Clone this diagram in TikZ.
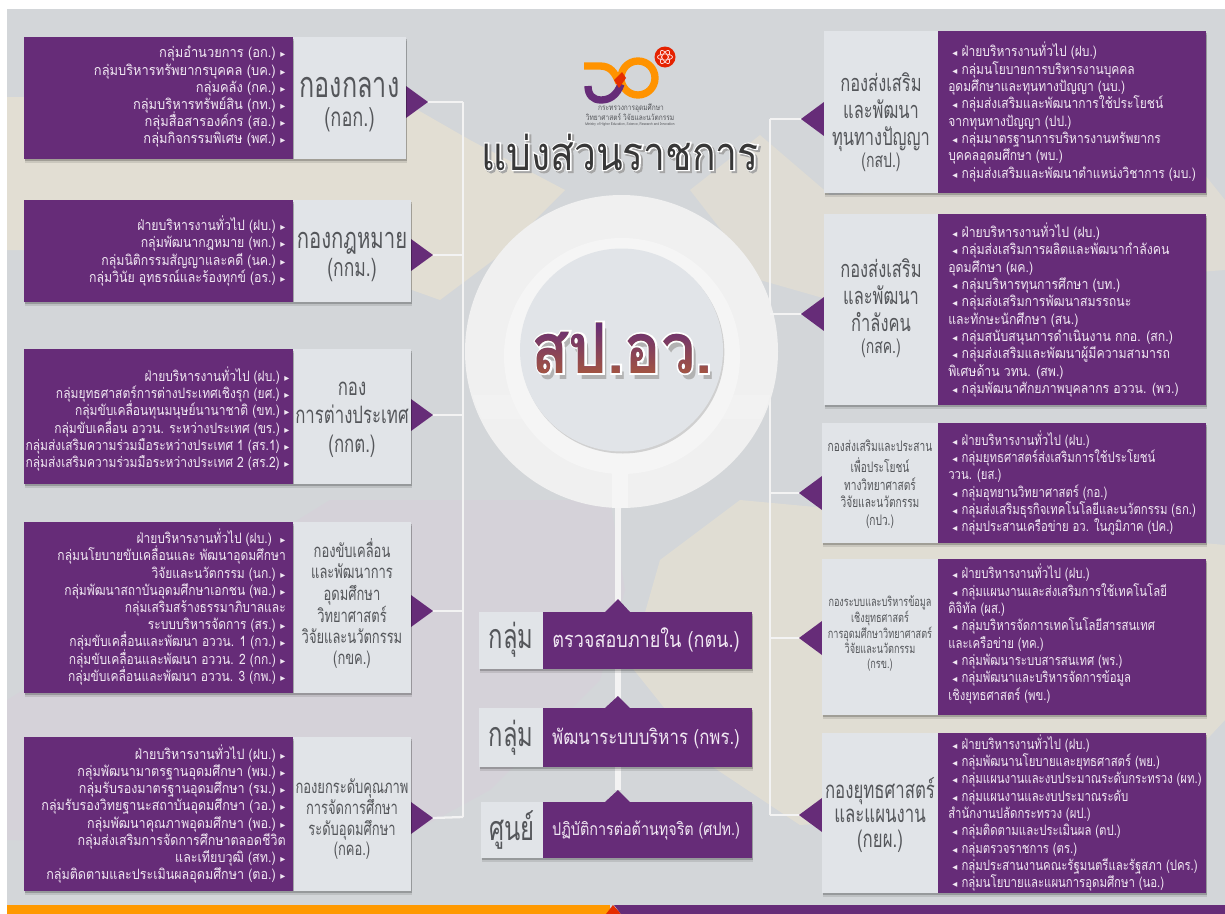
\documentclass[tikz,border=0pt]{standalone}
\usepackage{fontspec}
\usetikzlibrary{shadows,calc}
\setmainfont[Script=Thai,FakeStretch=0.82]{Loma}
\newfontfamily\djv{DejaVu Sans}
\newfontfamily\headf[Script=Thai,FakeStretch=0.7]{Loma}
\newfontfamily\outl[Script=Thai,FakeBold=5,FakeStretch=0.87]{Loma Bold}
\newfontfamily\outt[Script=Thai,FakeBold=5,FakeStretch=0.83]{Loma}
\newfontfamily\titf[Script=Thai,FakeStretch=0.83]{Loma}
\newfontfamily\lomab[Script=Thai,FakeStretch=0.87]{Loma Bold}
\newfontfamily\sA[Script=Thai,FakeStretch=0.90]{Loma}
\newfontfamily\sB[Script=Thai,FakeStretch=0.86]{Loma}
\newfontfamily\sC[Script=Thai,FakeStretch=0.84]{Loma}
\newfontfamily\sD[Script=Thai,FakeStretch=0.875]{Loma}
\newfontfamily\sE[Script=Thai,FakeStretch=0.795]{Loma}
\newcommand\fs[2]{\fontsize{\fpeval{#1*0.75}pt}{\fpeval{#2*0.75}pt}\selectfont}
\newcommand\fsl[2]{\fs{#1}{#2}\lineskiplimit=-100pt\relax}
\newcommand\hh[3]{{\headf\fs{#1}{#2}\begin{tabular}{@{}c@{}}#3\end{tabular}}}
\newdimen\px \px=0.75pt
\def\lx{286}
\def\lf{\sC}
\definecolor{pur}{HTML}{662C78}
\definecolor{lite}{HTML}{E1E4E8}
\definecolor{grey1}{HTML}{54565A}
\definecolor{base}{HTML}{D3D6D9}
\definecolor{beige}{HTML}{E2DED3}
\definecolor{lav}{HTML}{D6D1DA}
\definecolor{txt}{HTML}{F1E8F3}
\definecolor{wline}{HTML}{F3F3F3}
\definecolor{spbase}{HTML}{662C3C}
\definecolor{spbot}{HTML}{A8583C}
\newcommand\mk{\hspace{3.5pt}\makebox[4pt][l]{\djv\fontsize{7.5}{7.5}\selectfont ▸}\hspace{3pt}}
\newcommand\mkl{\hspace{3pt}\makebox[7pt][l]{\djv\fontsize{7.5}{7.5}\selectfont ◂}}
\tikzset{
 shd/.style={drop shadow={shadow xshift=.5pt,shadow yshift=-1.2pt,opacity=.2,fill=black},drop shadow={shadow xshift=1pt,shadow yshift=-3pt,opacity=.1,fill=black}},
 pbox/.style={fill=pur,inner sep=0pt,outer sep=0pt,shd},
 lbox/.style={fill=lite,inner sep=0pt,outer sep=0pt,shd},
 headtxt/.style={text=grey1,align=center,inner sep=0pt},
 listl/.style={text=txt,align=right,inner sep=0pt,anchor=east,font=\lf\fsl{14.3}{17.2}},
 listr/.style={text=txt,align=left,inner sep=0pt,anchor=west,font=\lf\fsl{14.3}{17.3}},
 conn/.style={draw=wline,line width=1.7pt},
 stem/.style={draw=wline,line width=5pt},
 tri/.style={fill=pur},
}
% name, ytop, ybot, x light right, y tri, y list, y head, head, list
\newcommand\leftdiv[9]{%
 \coordinate (lt#1) at ({#4+22},#5);
 \fill[tri] (#4,{#5-16}) -- (lt#1) -- (#4,{#5+16}) -- cycle;
 \node[lbox,anchor=north west,minimum width={(#4-293)*\px},minimum height={(#3-#2)*\px}] (lh#1) at (293,#2) {};
 \node[pbox,anchor=north west,minimum width={269*\px},minimum height={(#3-#2)*\px}] (lp#1) at (24,#2) {};
 \node[headtxt] (lht#1) at ({(293+#4)/2},#7) {#8};
 \node[listl] (ll#1) at (\lx,#6) {#9};
}
\newcommand\rightdiv[9]{%
 \coordinate (rt#1) at ({#4-23},#5);
 \fill[tri] (#4,{#5-17}) -- (rt#1) -- (#4,{#5+17}) -- cycle;
 \node[lbox,anchor=north west,minimum width={(938-#4)*\px},minimum height={(#3-#2)*\px}] (rh#1) at (#4,#2) {};
 \node[pbox,anchor=north west,minimum width={268*\px},minimum height={(#3-#2)*\px}] (rp#1) at (938,#2) {};
 \node[headtxt] (rht#1) at ({(938+#4)/2},#7) {#8};
 \node[listr] (rl#1) at (948,#6) {#9};
}
% name ytop ybot xlight ytip yhead word size text
\newcommand\centdiv[9]{%
 \coordinate (ct#1) at (618,#5);
 \fill[tri] (605,#2) -- (ct#1) -- (630,#2) -- cycle;
 \node[lbox,anchor=north west,minimum width={(543-#4)*\px},minimum height={(#3-#2)*\px}] (ch#1) at (#4,#2) {};
 \node[pbox,anchor=north west,minimum width={209*\px},minimum height={(#3-#2)*\px}] (cp#1) at (543,#2) {};
 \node[headtxt] (cw#1) at ({(543+#4)/2},#6) {\headf\fs{34}{34}#7};
 \node[text=txt,inner sep=0pt] (cl#1) at (646,#6) {\fs{#8}{#8}#9};
}
\begin{document}
\begin{tikzpicture}[x=0.75pt,y=-0.75pt]
\useasboundingbox (0,0) rectangle (1225,914);
\fill[white] (0,0) rectangle (1225,914);
% background
\fill[base] (7,9) rectangle (1225,914);
\begin{scope}
\clip (7,9) rectangle (1225,905);
\fill[beige] (7,97) -- (395,97) -- (470,140) -- (565,190) -- (500,255) -- (440,300) -- (300,250) -- (7,250) -- cycle;
\fill[beige,opacity=.8] (690,190) -- (760,135) -- (830,195) -- (1205,175) -- (1225,200) -- (1225,270) -- (830,300) -- (760,280) -- cycle;
\fill[beige,opacity=.9] (660,560) -- (740,500) -- (1225,545) -- (1225,720) -- (1150,800) -- (800,825) -- (710,765) -- (630,665) -- cycle;
\fill[lav,opacity=.8] (330,500) -- (610,500) -- (625,590) -- (600,680) -- (490,790) -- (380,850) -- (7,840) -- (7,700) -- cycle;
\end{scope}
% bottom bars
\fill[orange!80!yellow] (7,905) rectangle (610,914);
\fill[red!60!orange!90!black] (606,914) -- (613,905) -- (621,914) -- cycle;
\fill[pur] (614,905) -- (1225,905) -- (1225,914) -- (621,914) -- cycle;
% junctions
\coordinate (jl1) at (463,102);\coordinate (jl2) at (463,255);\coordinate (jl3) at (463,415);\coordinate (jl4) at (463,611);\coordinate (jl5) at (463,817);
\coordinate (jr1) at (770,119);\coordinate (jr2) at (770,314);\coordinate (jr3) at (770,493);\coordinate (jr4) at (770,638);\coordinate (jr5) at (770,815);
\coordinate (ct3) at (618,790);
\coordinate (stemtop) at (618,505);
\draw[conn] (jl1) -- (jl5);
\draw[conn] (jr1) -- (jr5);
% centre rings
\node[circle,fill=black!6,inner sep=0pt,minimum size={313*\px}] (outerring) at (621.5,351.5) {};
\begin{scope}
\clip (450,395) rectangle (800,418);
\fill[white!95!black] (621.5,351.5) circle[radius=155];
\end{scope}
\node[circle,fill=white!96!black,inner sep=0pt,minimum size={236*\px}] (whitering) at (622,356) {};
\node[circle,fill=lite,inner sep=0pt,minimum size={203*\px},drop shadow={shadow xshift=1pt,shadow yshift=-1.5pt,opacity=.15,fill=black}] (hub) at (621.5,350) {};
% title & logo
\draw[line width=5.5pt,orange!85!yellow] (638,78) circle[radius=17];
\draw[line width=5.5pt,orange!85!yellow] (584,66) -- (600,66) .. controls (610,66) and (615,72) .. (619,83);
\draw[line width=5.5pt,pur] (621,84) .. controls (617,95) and (610,100) .. (601,100) .. controls (593,100) and (588,95) .. (588,86);
\fill[red!60!orange!90!black] (614,80) -- (622,72) -- (626,78) -- (619,88) -- cycle;
\fill[red!70!orange!90!black] (665,57) circle[radius=10.5];
\foreach \a in {0,60,120}{\draw[white!85!red,line width=.55pt,rotate around={\a:(665,57)}] (665,57) ellipse[x radius=7.5,y radius=3];}
\node[text=grey1,inner sep=0pt] (logo1) at (631,108) {\fs{8}{8}กระทรวงการอุดมศึกษา};
\node[text=grey1,inner sep=0pt] (logo2) at (630,117) {\fs{8}{8}วิทยาศาสตร์ วิจัยและนวัตกรรม};
\node[text=grey1,inner sep=0pt] (logo3) at (630,124) {\fs{3.8}{4}Ministry of Higher Education, Science, Research and Innovation};
\node[text=black!35,inner sep=0pt,anchor=base] (titlesh) at (622,172) {\outt\fs{47}{47}แบ่งส่วนราชการ};
\node[text=white,inner sep=0pt,anchor=base] (titleo) at (620,170) {\outt\fs{47}{47}แบ่งส่วนราชการ};
\node[text=black!78,inner sep=0pt,anchor=base] (title) at (620,170) {\titf\fs{47}{47}แบ่งส่วนราชการ};
\node[text=black!30,inner sep=0pt,anchor=base] (spsh) at (626,379) {\lomab\fs{70}{70}สป.อว.};
\node[text=white,inner sep=0pt,anchor=base] (spo) at (622,373) {\outl\fs{70}{70}สป.อว.};
\node[text=spbase,inner sep=0pt,anchor=base] (sp) at (622,373) {\lomab\fs{70}{70}สป.อว.};
\shade[blend mode=lighten,top color=pur,bottom color=spbot,shading angle=0] (520,322) rectangle (725,378);
% centre column
\draw[stem] (stemtop) -- (ct3);
\fill[white!96!black] (612,470) rectangle (628,508);
\centdiv{1}{612}{669}{479}{599}{640}{กลุ่ม}{22}{ตรวจสอบภายใน (กตน.)}
\centdiv{2}{708}{767}{479}{696}{738}{กลุ่ม}{20.5}{พัฒนาระบบบริหาร (กพร.)}
\centdiv{3}{802}{858}{481}{790}{830}{ศูนย์}{17.5}{ปฏิบัติการต่อต้านทุจริต (ศปท.)}
% left
\def\lf{\sA}
\leftdiv{1}{37}{159}{406}{102}{97}{106}{\hh{36}{29}{กองกลาง\\\fs{26}{29}(กอก.)}}{%
กลุ่มอำนวยการ (อก.)\mk\\กลุ่มบริหารทรัพยากรบุคคล (บค.)\mk\\กลุ่มคลัง (กค.)\mk\\กลุ่มบริหารทรัพย์สิน (กท.)\mk\\กลุ่มสื่อสารองค์กร (สอ.)\mk\\กลุ่มกิจกรรมพิเศษ (พศ.)\mk}
\def\lf{\sB}
\leftdiv{2}{200}{302}{411}{255}{251}{257}{\hh{29}{28}{กองกฎหมาย\\\fs{25}{28}(กกม.)}}{%
ฝ่ายบริหารงานทั่วไป (ฝบ.)\mk\\กลุ่มพัฒนากฎหมาย (พก.)\mk\\กลุ่มนิติกรรมสัญญาและคดี (นค.)\mk\\กลุ่มวินัย อุทธรณ์และร้องทุกข์ (อร.)\mk}
\def\lf{\sC}\def\lx{290}
\leftdiv{3}{349}{484}{411}{415}{419}{418}{\hh{24}{28.5}{กอง\\การต่างประเทศ\\(กกต.)}}{%
ฝ่ายบริหารงานทั่วไป (ฝบ.)\mk\\กลุ่มยุทธศาสตร์การต่างประเทศเชิงรุก (ยศ.)\mk\\กลุ่มขับเคลื่อนทุนมนุษย์นานาชาติ (ขท.)\mk\\กลุ่มขับเคลื่อน อววน. ระหว่างประเทศ (ขร.)\mk\\กลุ่มส่งเสริมความร่วมมือระหว่างประเทศ 1 (สร.1)\mk\\กลุ่มส่งเสริมความร่วมมือระหว่างประเทศ 2 (สร.2)\mk}
\def\lx{286}
\leftdiv{4}{522}{693}{411}{611}{607}{605}{\hh{18.5}{21}{กองขับเคลื่อน\\และพัฒนาการ\\อุดมศึกษา\\วิทยาศาสตร์\\วิจัยและนวัตกรรม\\(กขค.)}}{%
ฝ่ายบริหารงานทั่วไป (ฝบ.)\hspace{3pt}\mk\\กลุ่มนโยบายขับเคลื่อนและ พัฒนาอุดมศึกษา\\วิจัยและนวัตกรรม (นก.)\mk\\กลุ่มพัฒนาสถาบันอุดมศึกษาเอกชน (พอ.)\mk\\กลุ่มเสริมสร้างธรรมาภิบาลและ\\ระบบบริหารจัดการ (สร.)\mk\\กลุ่มขับเคลื่อนและพัฒนา อววน. 1 (กว.)\mk\\กลุ่มขับเคลื่อนและพัฒนา อววน. 2 (กก.)\mk\\กลุ่มขับเคลื่อนและพัฒนา อววน. 3 (กพ.)\mk}
\def\lf{\sD}
\leftdiv{5}{737}{891}{411}{818}{814}{820}{\hh{18.5}{20}{กองยกระดับคุณภาพ\\การจัดการศึกษา\\ระดับอุดมศึกษา\\(กคอ.)}}{%
ฝ่ายบริหารงานทั่วไป (ฝบ.)\mk\\กลุ่มพัฒนามาตรฐานอุดมศึกษา (พม.)\mk\\กลุ่มรับรองมาตรฐานอุดมศึกษา (รม.)\mk\\กลุ่มรับรองวิทยฐานะสถาบันอุดมศึกษา (วอ.)\mk\\กลุ่มพัฒนาคุณภาพอุดมศึกษา (พอ.)\mk\\กลุ่มส่งเสริมการจัดการศึกษาตลอดชีวิต\\และเทียบวุฒิ (สท.)\mk\\กลุ่มติดตามและประเมินผลอุดมศึกษา (ตอ.)\mk}
% right
\def\lf{\sC}
\rightdiv{1}{31}{193}{824}{119}{112}{124}{\hh{23.5}{26}{กองส่งเสริม\\และพัฒนา\\ทุนทางปัญญา\\[-3pt]\fs{20}{26}(กสป.)}}{%
\mkl ฝ่ายบริหารงานทั่วไป (ฝบ.)\\\mkl กลุ่มนโยบายการบริหารงานบุคคล\\อุดมศึกษาและทุนทางปัญญา (นบ.)\\\mkl กลุ่มส่งเสริมและพัฒนาการใช้ประโยชน์\\จากทุนทางปัญญา (ปป.)\\\mkl กลุ่มมาตรฐานการบริหารงานทรัพยากร\\บุคคลอุดมศึกษา (พบ.)\\\mkl กลุ่มส่งเสริมและพัฒนาตำแหน่งวิชาการ (มบ.)}
\def\lf{\sB}
\rightdiv{2}{214}{405}{824}{314}{310}{310}{\hh{23.5}{26}{กองส่งเสริม\\และพัฒนา\\กำลังคน\\[-3pt]\fs{20}{26}(กสค.)}}{%
\mkl ฝ่ายบริหารงานทั่วไป (ฝบ.)\\\mkl กลุ่มส่งเสริมการผลิตและพัฒนากำลังคน\\อุดมศึกษา (ผค.)\\\mkl กลุ่มบริหารทุนการศึกษา (บท.)\\\mkl กลุ่มส่งเสริมการพัฒนาสมรรถนะ\\และทักษะนักศึกษา (สน.)\\\mkl กลุ่มสนับสนุนการดำเนินงาน กกอ. (สก.)\\\mkl กลุ่มส่งเสริมและพัฒนาผู้มีความสามารถ\\พิเศษด้าน วทน. (สพ.)\\\mkl กลุ่มพัฒนาศักยภาพบุคลากร อววน. (พว.)}
\def\lf{\sE}
\rightdiv{3}{423}{543}{822}{493}{483}{485}{\hh{14.5}{17.5}{กองส่งเสริมและประสาน\\เพื่อประโยชน์\\ทางวิทยาศาสตร์\\วิจัยและนวัตกรรม\\(กปว.)}}{%
\mkl ฝ่ายบริหารงานทั่วไป (ฝบ.)\\\mkl กลุ่มยุทธศาสตร์ส่งเสริมการใช้ประโยชน์\\ววน. (ยส.)\\\mkl กลุ่มอุทยานวิทยาศาสตร์ (กอ.)\\\mkl กลุ่มส่งเสริมธุรกิจเทคโนโลยีและนวัตกรรม (ธก.)\\\mkl กลุ่มประสานเครือข่าย อว. ในภูมิภาค (ปค.)}
\rightdiv{4}{559}{715}{822}{638}{634}{634}{\hh{13}{15}{กองระบบและบริหารข้อมูล\\เชิงยุทธศาสตร์\\การอุดมศึกษาวิทยาศาสตร์\\วิจัยและนวัตกรรม\\(กรข.)}}{%
\mkl ฝ่ายบริหารงานทั่วไป (ฝบ.)\\\mkl กลุ่มแผนงานและส่งเสริมการใช้เทคโนโลยี\\ดิจิทัล (ผส.)\\\mkl กลุ่มบริหารจัดการเทคโนโลยีสารสนเทศ\\และเครือข่าย (ทค.)\\\mkl กลุ่มพัฒนาระบบสารสนเทศ (พร.)\\\mkl กลุ่มพัฒนาและบริหารจัดการข้อมูล\\เชิงยุทธศาสตร์ (พข.)}
\rightdiv{5}{733}{893}{822}{815}{813}{816}{\hh{24}{24.5}{กองยุทธศาสตร์\\และแผนงาน\\(กยผ.)}}{%
\mkl ฝ่ายบริหารงานทั่วไป (ฝบ.)\\\mkl กลุ่มพัฒนานโยบายและยุทธศาสตร์ (พย.)\\\mkl กลุ่มแผนงานและงบประมาณระดับกระทรวง (ผท.)\\\mkl กลุ่มแผนงานและงบประมาณระดับ\\สำนักงานปลัดกระทรวง (ผป.)\\\mkl กลุ่มติดตามและประเมินผล (ตป.)\\\mkl กลุ่มตรวจราชการ (ตร.)\\\mkl กลุ่มประสานงานคณะรัฐมนตรีและรัฐสภา (ปคร.)\\\mkl กลุ่มนโยบายและแผนการอุดมศึกษา (นอ.)}
% connectors
\draw[conn] (lt1) -- (jl1); \draw[conn] (lt2) -- (jl2); \draw[conn] (lt3) -- (jl3); \draw[conn] (lt4) -- (jl4); \draw[conn] (lt5) -- (jl5);
\draw[conn] (rt1) -- (jr1); \draw[conn] (rt2) -- (jr2); \draw[conn] (rt3) -- (jr3); \draw[conn] (rt4) -- (jr4); \draw[conn] (rt5) -- (jr5);
\end{tikzpicture}
\end{document}
